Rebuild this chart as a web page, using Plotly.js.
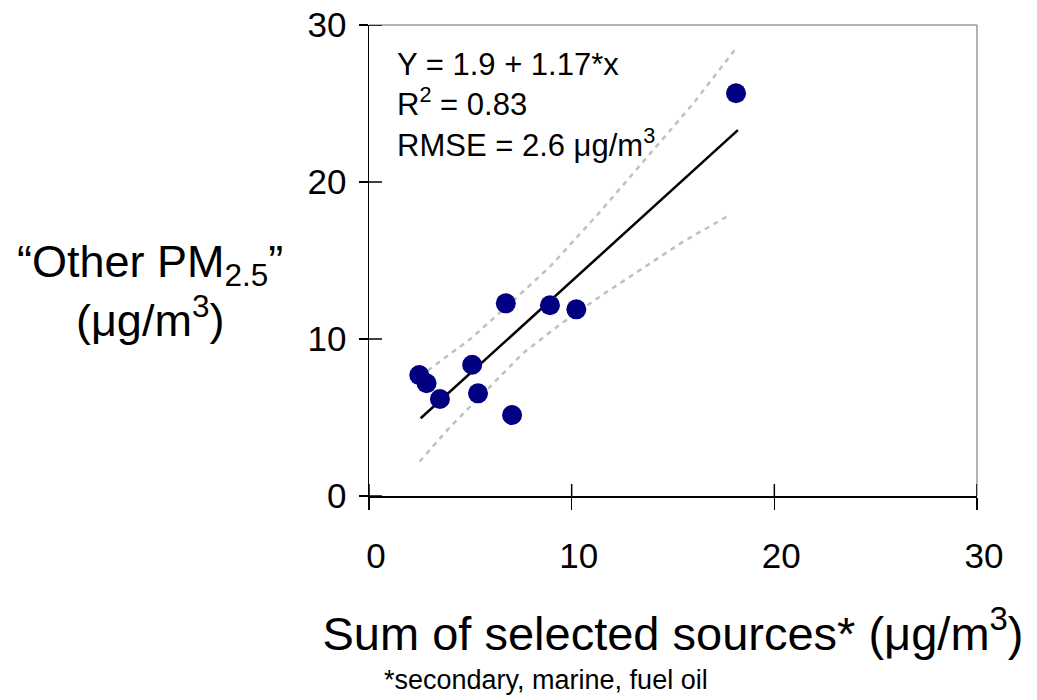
<!DOCTYPE html>
<html>
<head>
<meta charset="utf-8">
<script src="https://cdn.plot.ly/plotly-3.0.1.min.js"></script>
<style>html,body{margin:0;padding:0;background:#fff;}</style>
</head>
<body>
<div id="chart" style="width:1037px;height:700px;"></div>
<script>
// Observed points
const sumSelected = [2.48, 2.84, 3.50, 5.09, 5.38, 6.75, 7.06, 8.93, 10.23, 18.11];
const otherPM = [7.70, 7.18, 6.18, 8.36, 6.54, 12.27, 5.16, 12.15, 11.89, 25.65];

// Regression line (read endpoints)
const fitX = [2.55, 18.2];
const fitY = [4.95, 23.3];

// Confidence bands
const upperX = [2.9, 5.0, 7.0, 9.0, 11.4, 14.0, 16.0, 18.1];
const upperY = [8.0, 10.0, 12.3, 14.7, 18.1, 22.0, 25.0, 28.5];
const lowerX = [2.5, 4.0, 6.0, 7.6, 9.4, 11.5, 13.5, 15.5, 17.8];
const lowerY = [2.2, 4.4, 7.0, 9.1, 10.9, 12.8, 14.5, 16.2, 17.9];

const xTicks = [0, 10, 20, 30];
const yTicks = [0, 10, 20, 30];

const FONT = "Arial, 'Liberation Sans', sans-serif";

const traces = [
  {x: upperX, y: upperY, mode: 'lines', line: {color: '#c0c0c0', width: 2.5, dash: '5px,5px'}, hoverinfo: 'skip', showlegend: false},
  {x: lowerX, y: lowerY, mode: 'lines', line: {color: '#c0c0c0', width: 2.5, dash: '5px,5px'}, hoverinfo: 'skip', showlegend: false},
  {x: fitX, y: fitY, mode: 'lines', line: {color: '#000000', width: 2.5}, showlegend: false},
  {x: sumSelected, y: otherPM, mode: 'markers', marker: {color: '#000080', size: 20}, showlegend: false}
];

// inner halves of the crossing ticks
const tickShapes = [];
xTicks.forEach(v => tickShapes.push({type: 'line', xref: 'x', yref: 'y', x0: v, x1: v,
  ysizemode: 'pixel', yanchor: 0, y0: 0, y1: 12, line: {color: '#000', width: 1.5}}));
yTicks.forEach(v => tickShapes.push({type: 'line', xref: 'x', yref: 'y', y0: v, y1: v,
  xsizemode: 'pixel', xanchor: 0, x0: 0, x1: 13, line: {color: '#000', width: 1.5}}));

const layout = {
  width: 1037, height: 700,
  margin: {l: 369, r: 60, t: 25, b: 204},
  paper_bgcolor: '#ffffff', plot_bgcolor: '#ffffff',
  font: {family: FONT, color: '#000000'},
  showlegend: false,
  xaxis: {
    range: [0, 30], tickvals: xTicks, ticktext: xTicks.map(String),
    ticks: 'outside', ticklen: 12, tickwidth: 1.5, tickcolor: '#000',
    showline: true, linecolor: '#000', linewidth: 1.5,
    showgrid: false, zeroline: false,
    tickfont: {size: 35, family: FONT},
    ticklabelstandoff: 16, ticklabelshift: 7,
    title: {text: 'Sum of selected sources* (μg/m<sup>3</sup>)', font: {size: 47, family: FONT}, standoff: 43}
  },
  yaxis: {
    range: [0, 30], tickvals: yTicks, ticktext: yTicks.map(String),
    ticks: 'outside', ticklen: 9, tickwidth: 1.5, tickcolor: '#000',
    showline: true, linecolor: '#000', linewidth: 1.5,
    showgrid: false, zeroline: false,
    tickfont: {size: 35, family: FONT},
    ticklabelstandoff: 5
  },
  shapes: [
    {type: 'line', xref: 'paper', yref: 'paper', x0: 0, x1: 1, y0: 1, y1: 1, line: {color: '#999999', width: 1.5}, layer: 'below'},
    {type: 'line', xref: 'paper', yref: 'paper', x0: 1, x1: 1, y0: 0, y1: 1, line: {color: '#999999', width: 1.5}, layer: 'below'}
  ].concat(tickShapes),
  annotations: [
    {xref: 'paper', yref: 'paper', x: 0.043, y: 0.958, xanchor: 'left', yanchor: 'top', align: 'left', showarrow: false,
     text: 'Y = 1.9 + 1.17*x<br>R<sup>2</sup> = 0.83<br>RMSE = 2.6 μg/m<sup>3</sup>', font: {size: 31, family: FONT}},
    {xref: 'paper', yref: 'paper', x: -0.36, y: 0.436, xanchor: 'center', yanchor: 'middle', align: 'center', showarrow: false,
     text: '“Other PM<sub>2.5</sub>”<br>(μg/m<sup>3</sup>)', font: {size: 45, family: FONT}},
    {xref: 'paper', yref: 'paper', x: 0.291, y: -0.391, xanchor: 'center', yanchor: 'middle', showarrow: false,
     text: '*secondary, marine, fuel oil', font: {size: 27, family: FONT}}
  ]
};

Plotly.newPlot('chart', traces, layout, {displayModeBar: false, staticPlot: true});
</script>
</body>
</html>
